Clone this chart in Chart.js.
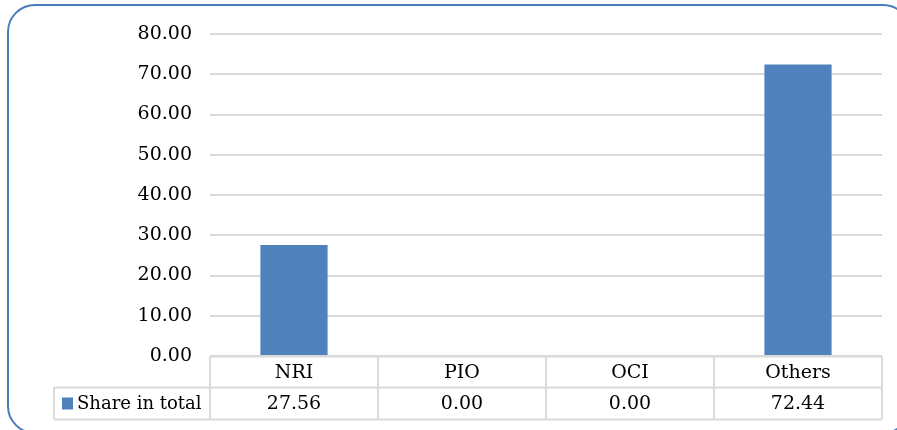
<!DOCTYPE html>
<html>
<head>
<meta charset="utf-8">
<script src="https://cdn.jsdelivr.net/npm/chart.js@4"></script>
<style>
  body { margin: 0; background: #ffffff; }
  canvas { display: block; }
</style>
</head>
<body>
<canvas id="chart" width="897" height="430"></canvas>
<script>
// dados do gráfico
var categories = ["NRI", "PIO", "OCI", "Others"];
var shareValues = [27.56, 0.00, 0.00, 72.44];
var seriesName = "Share in total";

var fontFamily = "'DejaVu Serif', Georgia, serif";
var barColor = "#4f81bd";
var lineColor = "#d9d9d9";

// moldura arredondada e tabela de dados abaixo do eixo
var tablePlugin = {
  id: "dataTable",
  afterDraw: function(chart) {
    var ctx = chart.ctx;
    var area = chart.chartArea;
    var x = chart.scales.x;
    var n = categories.length;
    var colW = (area.right - area.left) / n;
    var top = Math.round(area.bottom) + 0.5;
    var mid = top + 31;
    var bottom = mid + 32;
    var headLeft = 54;

    ctx.save();
    ctx.strokeStyle = lineColor;
    ctx.lineWidth = 2;
    ctx.beginPath();
    ctx.moveTo(area.left, top); ctx.lineTo(area.right, top);
    ctx.moveTo(headLeft, mid); ctx.lineTo(area.right, mid);
    ctx.moveTo(headLeft, bottom); ctx.lineTo(area.right, bottom);
    ctx.moveTo(headLeft, mid); ctx.lineTo(headLeft, bottom);
    for (var i = 0; i <= n; i++) {
      var vx = area.left + i * colW;
      ctx.moveTo(vx, top); ctx.lineTo(vx, bottom);
    }
    ctx.stroke();

    ctx.fillStyle = "#000000";
    ctx.font = "19px " + fontFamily;
    ctx.textAlign = "center";
    ctx.textBaseline = "middle";
    for (var j = 0; j < n; j++) {
      var cx = x.getPixelForValue(j);
      ctx.fillText(categories[j], cx, (top + mid) / 2 + 1);
      ctx.fillText(shareValues[j].toFixed(2), cx, (mid + bottom) / 2 + 1);
    }

    // legenda da série
    ctx.fillStyle = barColor;
    ctx.fillRect(62, (mid + bottom) / 2 - 6, 11, 12);
    ctx.fillStyle = "#000000";
    ctx.textAlign = "left";
    ctx.font = "18px " + fontFamily;
    ctx.fillText(seriesName, 77, (mid + bottom) / 2 + 1);

    // borda azul arredondada
    ctx.strokeStyle = "#4a7ebb";
    ctx.lineWidth = 2;
    ctx.beginPath();
    ctx.roundRect(8, 5, 902, 428, 27);
    ctx.stroke();
    ctx.restore();
  }
};

var ctx = document.getElementById("chart").getContext("2d");

new Chart(ctx, {
  type: "bar",
  data: {
    labels: categories,
    datasets: [{
      label: seriesName,
      data: shareValues,
      backgroundColor: barColor,
      borderWidth: 0,
      barPercentage: 0.4,
      categoryPercentage: 1.0
    }]
  },
  options: {
    responsive: false,
    animation: false,
    layout: {
      padding: { left: 0, right: 15, top: 34, bottom: 74 }
    },
    plugins: {
      legend: { display: false },
      tooltip: { enabled: false }
    },
    scales: {
      x: {
        display: false
      },
      y: {
        min: 0,
        max: 80,
        ticks: {
          stepSize: 10,
          padding: 18,
          color: "#000000",
          font: { family: fontFamily, size: 19 },
          callback: function(value) { return value.toFixed(2); }
        },
        grid: {
          color: lineColor,
          lineWidth: 2,
          drawTicks: false
        },
        border: { display: false },
        afterFit: function(scale) { scale.width = 210; }
      }
    }
  },
  plugins: [tablePlugin]
});
</script>
</body>
</html>
